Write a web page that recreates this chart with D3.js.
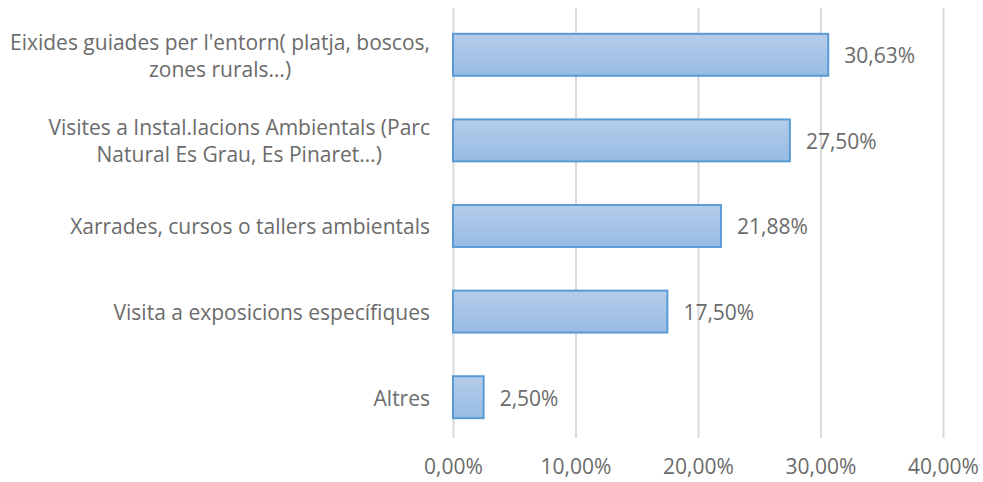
<!DOCTYPE html>
<html>
<head>
<meta charset="utf-8">
<script src="https://cdn.jsdelivr.net/npm/d3@7/dist/d3.min.js"></script>
<style>
  html, body { margin: 0; padding: 0; background: #fff; }
  svg { display: block; }
  text { font-family: "Open Sans", "Liberation Sans", sans-serif; fill: #6b6b6b; }
</style>
</head>
<body>
<svg id="chart" width="983" height="482"></svg>
<script>
// Activity categories (each inner array is one wrapped label, line by line)
const categories = [
  ["Eixides guiades per l'entorn( platja, boscos,", "zones rurals…)"],
  ["Visites a Instal.lacions Ambientals (Parc", "Natural Es Grau, Es Pinaret…)"],
  ["Xarrades, cursos o tallers ambientals"],
  ["Visita a exposicions específiques"],
  ["Altres"]
];
const values = [30.63, 27.50, 21.88, 17.50, 2.50];
const xTicks = [0, 10, 20, 30, 40];

const fmt = v => v.toFixed(2).replace(".", ",") + "%";
const fontSize = "21px";
const textColor = "#6b6b6b";

const svg = d3.select("#chart");
const plot = { left: 453, right: 943, top: 12, bottom: 440 };

const x = d3.scaleLinear().domain([0, 40]).range([plot.left, plot.right]);
const y = d3.scaleBand()
  .domain(d3.range(categories.length))
  .range([plot.top, plot.bottom])
  .paddingInner(0.51)
  .paddingOuter(0.255);

// Bar fill: light-to-mid blue vertical gradient
const defs = svg.append("defs");
const grad = defs.append("linearGradient")
  .attr("id", "barGrad").attr("x1", 0).attr("y1", 0).attr("x2", 0).attr("y2", 1);
grad.append("stop").attr("offset", "0%").attr("stop-color", "#b5cdea");
grad.append("stop").attr("offset", "100%").attr("stop-color", "#97bbe4");

// Vertical gridlines with percentage tick labels underneath
const xAxis = d3.axisBottom(x).tickValues(xTicks)
  .tickSize(-(plot.bottom - plot.top + 2))
  .tickFormat(d => fmt(d));
const gx = svg.append("g")
  .attr("transform", `translate(0,${plot.bottom - 2})`)
  .call(xAxis);
gx.select(".domain").remove();
gx.selectAll(".tick line").attr("stroke", "#d9d9d9").attr("stroke-width", 2);
gx.selectAll(".tick text")
  .attr("y", 21)
  .style("font-size", fontSize)
  .attr("fill", textColor);

// Bars
svg.append("g").selectAll("rect")
  .data(values)
  .join("rect")
  .attr("x", x(0))
  .attr("y", (d, i) => y(i))
  .attr("width", d => x(d) - x(0))
  .attr("height", y.bandwidth())
  .attr("fill", "url(#barGrad)")
  .attr("stroke", "#5b9bd5")
  .attr("stroke-width", 2);

// Value labels
svg.append("g").selectAll("text")
  .data(values)
  .join("text")
  .attr("x", d => x(d) + 16)
  .attr("y", (d, i) => y(i) + y.bandwidth() / 2 + 1)
  .attr("dy", "0.35em")
  .style("font-size", fontSize)
  .text(d => fmt(d));

// Category labels, right-aligned beside the axis
const lineH = 27;
const catG = svg.append("g");
categories.forEach((lines, i) => {
  const cy = y(i) + y.bandwidth() / 2 + 1;
  const t = catG.append("text")
    .attr("text-anchor", "middle")
    .style("font-size", fontSize);
  const y0 = cy - (lines.length - 1) * lineH / 2;
  lines.forEach((ln, k) => {
    t.append("tspan")
      .attr("x", 0)
      .attr("y", y0 + k * lineH)
      .attr("dy", "0.35em")
      .text(ln);
  });
  // centre each multi-line block, then right-align block against the axis
  const w = t.node().getBBox().width;
  t.attr("transform", `translate(${430 - w / 2},0)`);
});
</script>
</body>
</html>
